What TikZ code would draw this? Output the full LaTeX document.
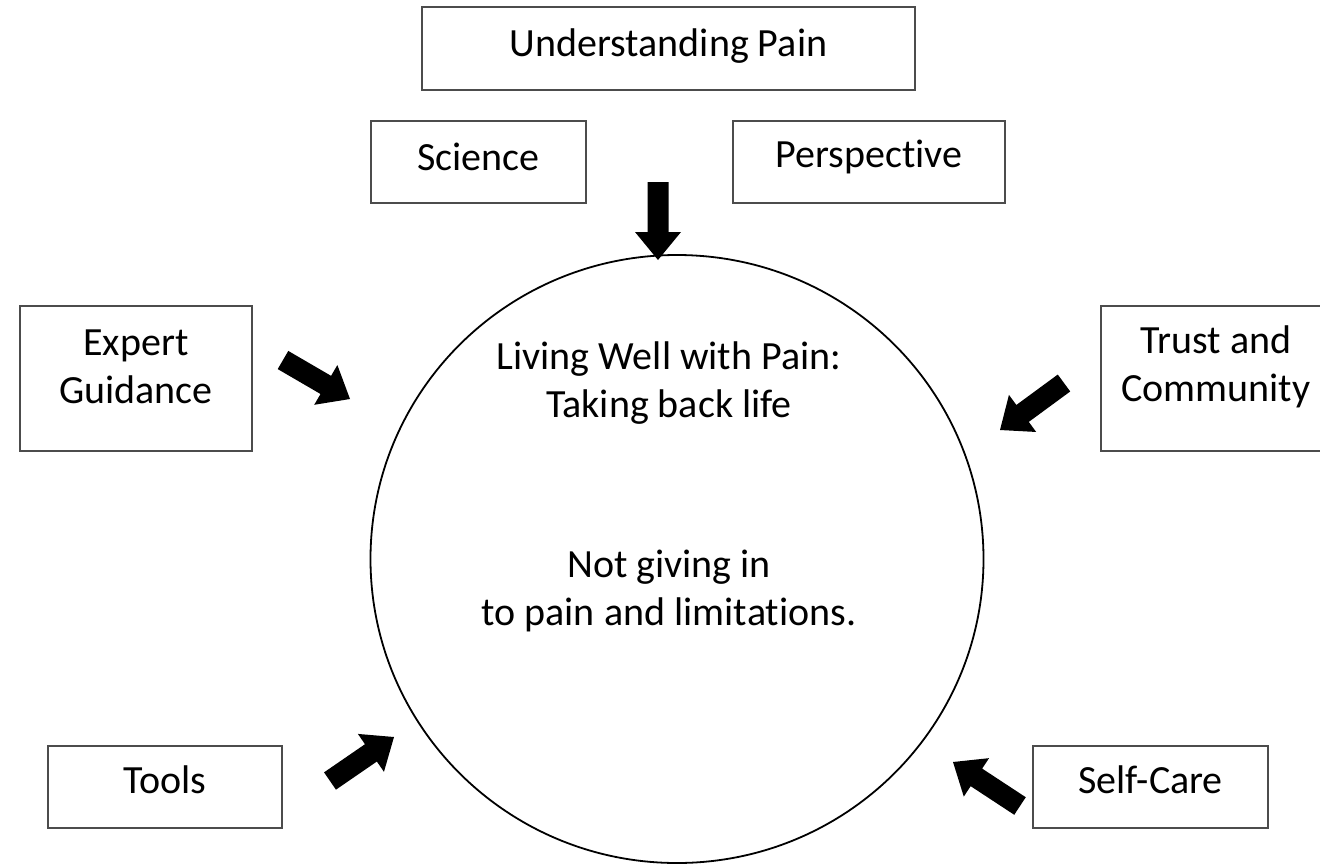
\documentclass[tikz,border=0pt]{standalone}
\usepackage{fontspec}
\setmainfont{Carlito}[RawFeature={-liga;-clig;-dlig;-calt}]
\usetikzlibrary{calc,shapes.geometric}
\tikzset{
  lbl/.style={draw=black!70, line width=1.3pt, fill=white, inner sep=0pt},
  txt/.style={align=center, inner sep=0pt, font=\fontsize{40}{48}\selectfont},
  blk/.style={fill=black},
}
\newcommand\blockarrow[2]{%
  \fill[blk] ($(#1)!10.5pt!90:(#2)$) -- ($($(#2)!28pt!(#1)$)!10.5pt!90:(#2)$) -- ($($(#2)!28pt!(#1)$)!23pt!90:(#2)$) -- (#2)
    -- ($($(#2)!28pt!(#1)$)!23pt!-90:(#2)$) -- ($($(#2)!28pt!(#1)$)!10.5pt!-90:(#2)$) -- ($(#1)!10.5pt!-90:(#2)$) -- cycle;}
\begin{document}
\begin{tikzpicture}[x=1pt,y=-1pt]
\useasboundingbox (0,0) rectangle (1320,863);
% circle
\node[ellipse, draw=black, line width=1.8pt, minimum width=613pt, minimum height=608pt, inner sep=0pt] (main) at (677,559) {};
\node[txt] (t1) at (669,383) {Living Well with Pain:\\Taking back life};
\node[txt] (t2) at (669,591) {Not giving in\\to pain and limit\kern0pt ations.};
% boxes
\node[lbl, minimum width=493pt, minimum height=83pt] (up) at (668.5,48.5) {};
\node[txt] (upt) at (up.center) [yshift=2pt] {Understanding Pain};
\node[lbl, minimum width=215pt, minimum height=82pt] (sci) at (478.5,162) {};
\node[txt] (scit) at (sci.center) [yshift=5pt] {Science};
\node[lbl, minimum width=272pt, minimum height=82pt] (per) at (869,162) {};
\node[txt] (pert) at (per.center) [yshift=5pt] {Perspect\kern0pt ive};
\node[lbl, minimum width=232pt, minimum height=145pt] (exp) at (136,378.5) {};
\node[txt] (expt) at (exp.center) [yshift=12pt] {Expert\\Guidance};
\node[lbl, minimum width=230pt, minimum height=145pt] (tru) at (1216,378.5) {};
\node[txt] (trut) at (tru.center) [yshift=12pt] {Trust and\\Community};
\node[lbl, minimum width=234pt, minimum height=82pt] (too) at (165,787) {};
\node[txt] (toot) at (too.center) [yshift=7pt] {Tools};
\node[lbl, minimum width=235pt, minimum height=82pt] (sel) at (1150.5,787) {};
\node[txt] (selt) at (sel.center) [yshift=7pt] {Self-Care};
% arrow coordinates
\coordinate (a1s) at (658,182); \coordinate (a1e) at (658,260);
\coordinate (a2s) at (283,360); \coordinate (a2e) at (350,399);
\coordinate (a3s) at (1064,383); \coordinate (a3e) at (1000,430);
\coordinate (a4s) at (330,781); \coordinate (a4e) at (394,737);
\coordinate (a5s) at (1020,806); \coordinate (a5e) at (953,762);
\blockarrow{a1s}{a1e}
\blockarrow{a2s}{a2e}
\blockarrow{a3s}{a3e}
\blockarrow{a4s}{a4e}
\blockarrow{a5s}{a5e}
\end{tikzpicture}
\end{document}
